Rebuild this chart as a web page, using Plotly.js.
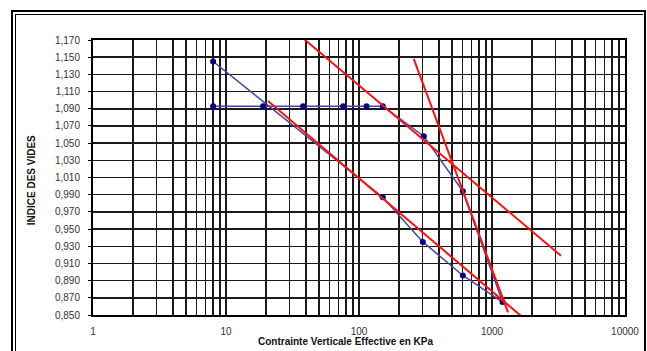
<!DOCTYPE html>
<html>
<head>
<meta charset="utf-8">
<script src="https://cdn.plot.ly/plotly-3.0.1.min.js"></script>
<style>
  html, body { margin: 0; padding: 0; background: #fff; width: 647px; height: 351px; overflow: hidden; }
  #frame1 { position: absolute; left: 11px; top: 10px; width: 635px; height: 360px; border: 2px solid #000; box-sizing: border-box; }
  #frame2 { position: absolute; left: 15px; top: 14px; width: 628px; height: 360px; border: 1px solid #000; border-right: none; box-sizing: border-box; }
  #chart { position: absolute; left: 0; top: 0; width: 647px; height: 351px; }
</style>
</head>
<body>
<div id="frame1"></div>
<div id="frame2"></div>
<div id="chart"></div>
<script>
// Test data (oedometer curve)
const stress = [8, 19, 38, 76, 114, 151, 307, 604, 1200, 604, 302, 151, 8];
const voidRatio = [1.093, 1.093, 1.093, 1.093, 1.093, 1.093, 1.058, 0.994, 0.865, 0.896, 0.935, 0.987, 1.145];

// Red construction lines (endpoints)
const line1X = [38, 3300];   const line1Y = [1.172, 0.919];
const line2X = [258, 1320];  const line2Y = [1.148, 0.853];
const line3X = [20.7, 1770]; const line3Y = [1.099, 0.845];

// Axis ticks
const xTickVals = [1, 10, 100, 1000, 10000];
const xTickText = ['1', '10', '100', '1000', '10000'];
const yTickVals = [0.85, 0.87, 0.89, 0.91, 0.93, 0.95, 0.97, 0.99, 1.01, 1.03, 1.05, 1.07, 1.09, 1.11, 1.13, 1.15, 1.17];

const xTitle = 'Contrainte Verticale Effective en KPa';
const yTitle = 'INDICE DES VIDES';

const redLine = {color: '#ff1010', width: 2};
const traces = [
  {x: stress, y: voidRatio, type: 'scatter', mode: 'lines+markers',
   line: {color: '#46469e', width: 1.5},
   marker: {color: '#000080', size: 6}, cliponaxis: false},
  {x: line1X, y: line1Y, type: 'scatter', mode: 'lines', line: redLine},
  {x: line2X, y: line2Y, type: 'scatter', mode: 'lines', line: redLine},
  {x: line3X, y: line3Y, type: 'scatter', mode: 'lines', line: redLine}
];

const gridC = '#1a1a1a';
const layout = {
  width: 647, height: 351,
  margin: {l: 93, r: 22, t: 40, b: 36},
  paper_bgcolor: 'rgba(0,0,0,0)',
  plot_bgcolor: '#fff',
  showlegend: false,
  separators: ',.',
  font: {family: 'Liberation Sans, Arial, sans-serif', size: 10, color: '#333'},
  xaxis: {
    type: 'log', range: [0, 4],
    tickvals: xTickVals, ticktext: xTickText,
    showgrid: true, gridcolor: gridC, gridwidth: 1.5,
    minor: {dtick: 'D1', showgrid: true, gridcolor: gridC, gridwidth: 1.5, ticks: ''},
    showline: true, linecolor: '#000', linewidth: 2, mirror: true,
    ticks: '', ticklabelstandoff: 6,
    tickfont: {size: 10, color: '#333'},
    zeroline: false
  },
  yaxis: {
    range: [0.85, 1.17],
    tickvals: yTickVals, tickformat: '.3f',
    showgrid: true, gridcolor: gridC, gridwidth: 1.5,
    showline: true, linecolor: '#000', linewidth: 2, mirror: true,
    ticks: 'outside', ticklen: 3, tickcolor: '#000', tickwidth: 1,
    ticklabelstandoff: 6,
    tickfont: {size: 10, color: '#333'},
    zeroline: false
  },
  annotations: [
    {text: '<b>' + xTitle + '</b>', xref: 'paper', yref: 'paper',
     x: (346 - 93) / 532, y: -0.095, xanchor: 'center', yanchor: 'middle',
     showarrow: false, font: {size: 10, color: '#111'}},
    {text: '<b>' + yTitle + '</b>', xref: 'paper', yref: 'paper',
     x: (31 - 93) / 532, y: 0.49, xanchor: 'center', yanchor: 'middle',
     textangle: -90, showarrow: false, font: {size: 10, color: '#111'}}
  ]
};

Plotly.newPlot('chart', traces, layout, {displayModeBar: false, staticPlot: true});
</script>
</body>
</html>
